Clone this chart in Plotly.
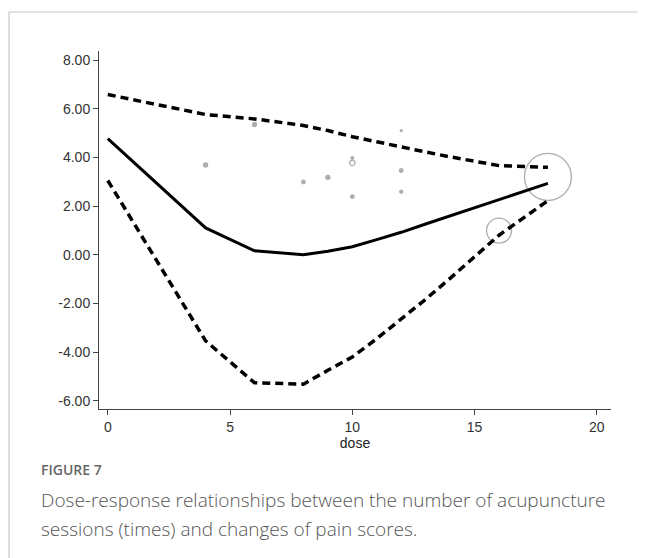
import plotly.graph_objects as go

# Fitted dose-response curve and 95% CI
dose = [0, 4, 6, 8, 9, 10, 11, 12, 13, 14, 15, 16, 18]
fit = [4.77, 1.10, 0.16, 0.00, 0.14, 0.33, 0.62, 0.92, 1.26, 1.60, 1.93, 2.27, 2.93]
upper = [6.58, 5.76, 5.58, 5.31, 5.10, 4.85, 4.64, 4.42, 4.22, 4.02, 3.84, 3.66, 3.59]
lower = [3.05, -3.54, -5.26, -5.32, -4.75, -4.20, -3.45, -2.65, -1.83, -0.97, -0.10, 0.80, 2.22]

# Study-level observed points (bubble size ~ weight)
pt_dose = [4, 6, 8, 9, 10, 10, 10, 12, 12, 12, 16, 18]
pt_val = [3.69, 5.35, 2.99, 3.18, 3.98, 3.77, 2.39, 5.10, 3.46, 2.59, 0.99, 3.20]
pt_size = [4, 4, 3.5, 4, 2.5, 5.5, 3.5, 2, 3.5, 3, 25, 47]
pt_symbol = ["circle", "circle", "circle", "circle", "circle", "circle-open",
             "circle", "circle", "circle", "circle", "circle-open", "circle-open"]

x_ticks = [0, 5, 10, 15, 20]
y_ticks = [-6, -4, -2, 0, 2, 4, 6, 8]
y_tick_text = ["%.2f" % v for v in y_ticks]

OFF = 8  # page body margin
W, H = 646 - OFF, 558 - OFF
L, R, T, B = 99 - OFF, 611 - OFF, 51 - OFF, 409 - OFF

fig = go.Figure()
fig.add_trace(go.Scatter(x=pt_dose, y=pt_val, mode="markers",
                         marker=dict(symbol=pt_symbol, size=pt_size, color="#8c8c8c",
                                     line=dict(width=1.3, color="#8c8c8c")),
                         showlegend=False, hoverinfo="skip"))
fig.add_trace(go.Scatter(x=dose, y=upper, mode="lines",
                         line=dict(color="black", width=3.5, dash="8px,5px"), showlegend=False))
fig.add_trace(go.Scatter(x=dose, y=lower, mode="lines",
                         line=dict(color="black", width=3.5, dash="8px,5px"), showlegend=False))
fig.add_trace(go.Scatter(x=dose, y=fit, mode="lines",
                         line=dict(color="black", width=3), showlegend=False))

def py(p):
    return (B - (p - OFF)) / (B - T)

def px(p):
    return ((p - OFF) - L) / (R - L)

fig.update_layout(
    width=W, height=H,
    margin=dict(l=L, r=W - R, t=T, b=H - B, pad=0),
    paper_bgcolor="white", plot_bgcolor="white",
    font=dict(family="Liberation Sans, Arial, sans-serif", size=14, color="#333"),
    xaxis=dict(range=[-0.36, 20.58], tickvals=x_ticks, ticks="outside", ticklen=5,
               tickcolor="#444", showline=True, linecolor="#444", linewidth=1,
               showgrid=False, zeroline=False,
               title=dict(text="dose", font=dict(size=14, color="#222"), standoff=2),
               tickfont=dict(size=14, color="#333")),
    yaxis=dict(range=[-6.34, 8.37], tickvals=y_ticks, ticktext=y_tick_text, ticks="outside",
               ticklen=5, tickcolor="#444", showline=True, linecolor="#444", linewidth=1,
               showgrid=False, zeroline=False, tickfont=dict(size=14, color="#333")),
    shapes=[
        dict(type="line", xref="paper", yref="paper", x0=px(9), x1=px(660), y0=py(12), y1=py(12),
             line=dict(color="#c8c8c8", width=1.2)),
        dict(type="line", xref="paper", yref="paper", x0=px(9), x1=px(9), y0=py(12), y1=py(570),
             line=dict(color="#c8c8c8", width=1.2)),
    ],
    annotations=[
        dict(text="FIGURE 7", xref="paper", yref="paper", x=px(39), y=py(469),
             xanchor="left", yanchor="middle", showarrow=False,
             font=dict(family="Open Sans", size=14, color="#666", weight=600)),
        dict(text="Dose-response relationships between the number of acupuncture",
             xref="paper", yref="paper", x=px(39), y=py(500), xanchor="left", yanchor="middle",
             showarrow=False, font=dict(family="Open Sans", size=19, color="#555", weight=300)),
        dict(text="sessions (times) and changes of pain scores.",
             xref="paper", yref="paper", x=px(39), y=py(529), xanchor="left", yanchor="middle",
             showarrow=False, font=dict(family="Open Sans", size=19, color="#555", weight=300)),
    ],
)

fig.write_html("out.html")
